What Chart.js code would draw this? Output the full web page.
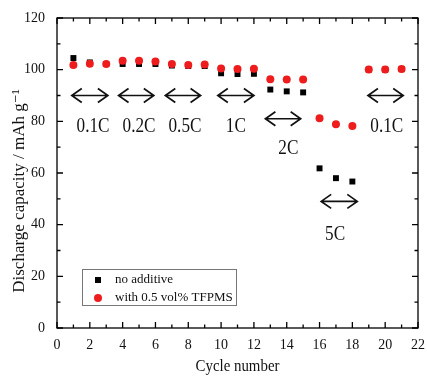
<!DOCTYPE html>
<html><head><meta charset="utf-8">
<script src="https://cdn.jsdelivr.net/npm/chart.js@4"></script>
<style>html,body{margin:0;padding:0;background:#fff}</style>
</head><body>
<canvas id="c" width="427" height="376"></canvas>
<script>
const cycles = [1,2,3,4,5,6,7,8,9,10,11,12,13,14,15,16,17,18,19,20,21];
const noAdditive = [104.5,102.8,102.2,102.2,102.2,102.2,101.6,101.4,101.4,98.6,98.3,98.4,92.3,91.6,91.2,61.8,58.0,56.7,100.0,100.0,100.2];
const withTFPMS = [101.8,102.3,102.2,103.5,103.5,103.2,102.2,101.8,102.0,100.5,100.3,100.4,96.3,96.2,96.2,81.2,78.9,78.2,100.1,100.1,100.3];
const seriesNames = ['no additive','with 0.5 vol% TFPMS'];
const rateLabels = ['0.1C','0.2C','0.5C','1C','2C','5C','0.1C'];

// annotation placement (data coordinates)
const arrowSpans = [[0.9,3.1],[3.75,5.9],[6.6,8.75],[9.8,12.0],[12.7,14.85],[16.1,18.3],[18.95,21.1]];
const arrowY = [90,90,90,90,81,49,90];
const labelX = [2.2,5.0,7.8,10.9,14.1,16.95,20.1];
const labelY = [78,78,78,78,69.5,36,78];

const SERIF = '"Liberation Serif","DejaVu Serif",serif';

function squeezedText(ctx, t, x, y, sx){
  ctx.save(); ctx.translate(x, y); ctx.scale(sx, 1); ctx.fillText(t, 0, 0); ctx.restore();
}

const deco = {
  id:'deco',
  afterDraw(chart){
    const ctx = chart.ctx, xs = chart.scales.x, ys = chart.scales.y, a = chart.chartArea;
    ctx.save();
    ctx.strokeStyle = '#000'; ctx.lineWidth = 1.3;
    ctx.strokeRect(a.left, a.top, a.right-a.left, a.bottom-a.top);
    // ticks inward, all sides
    for (let v=0; v<=22; v++){
      const x = xs.getPixelForValue(v), L = v%2===0 ? 6 : 3.5;
      ctx.beginPath(); ctx.moveTo(x,a.bottom); ctx.lineTo(x,a.bottom-L);
      ctx.moveTo(x,a.top); ctx.lineTo(x,a.top+L); ctx.stroke();
    }
    for (let v=0; v<=120; v+=10){
      const y = ys.getPixelForValue(v), L = v%20===0 ? 6 : 3.5;
      ctx.beginPath(); ctx.moveTo(a.left,y); ctx.lineTo(a.left+L,y);
      ctx.moveTo(a.right,y); ctx.lineTo(a.right-L,y); ctx.stroke();
    }
    // arrows
    ctx.lineWidth = 1.7; ctx.strokeStyle = '#111';
    arrowSpans.forEach((s,i)=>{
      const x1 = xs.getPixelForValue(s[0]), x2 = xs.getPixelForValue(s[1]), y = ys.getPixelForValue(arrowY[i]);
      ctx.beginPath(); ctx.moveTo(x1,y); ctx.lineTo(x2,y);
      ctx.moveTo(x1+10,y-7); ctx.lineTo(x1,y); ctx.lineTo(x1+10,y+7);
      ctx.moveTo(x2-10,y-7); ctx.lineTo(x2,y); ctx.lineTo(x2-10,y+7);
      ctx.stroke();
    });
    ctx.fillStyle = '#111';
    ctx.font = '20px '+SERIF; ctx.textAlign='center'; ctx.textBaseline='middle';
    rateLabels.forEach((t,i)=>{
      squeezedText(ctx, t, xs.getPixelForValue(labelX[i]), ys.getPixelForValue(labelY[i]), 0.86);
    });
    // legend
    ctx.lineWidth = 1; ctx.strokeStyle = '#777';
    ctx.strokeRect(82.5, 269.5, 154, 36);
    ctx.fillStyle = '#000'; ctx.fillRect(95, 277, 6, 6);
    ctx.fillStyle = '#ee1c1c'; ctx.beginPath(); ctx.arc(98, 298, 4, 0, Math.PI*2); ctx.fill();
    ctx.fillStyle = '#111'; ctx.font = '13px '+SERIF; ctx.textAlign='left';
    ctx.fillText(seriesNames[0], 115, 280);
    ctx.fillText(seriesNames[1], 115, 298);
    // axis titles
    ctx.font = '16px '+SERIF; ctx.textAlign='center';
    squeezedText(ctx, 'Cycle number', (a.left+a.right)/2, 367, 0.93);
    ctx.translate(20, 191); ctx.rotate(-Math.PI/2);
    ctx.font = '17px '+SERIF;
    ctx.fillText('Discharge capacity / mAh g\u207B\u00B9', 0, 0);
    ctx.restore();
  }
};

new Chart(document.getElementById('c'), {
  type:'scatter',
  data:{
    datasets:[
      {label:seriesNames[1], data:cycles.map((c,i)=>({x:c,y:withTFPMS[i]})), pointStyle:'circle', pointRadius:4, backgroundColor:'#ee1c1c', borderColor:'#ee1c1c', borderWidth:0, order:0},
      {label:seriesNames[0], data:cycles.map((c,i)=>({x:c,y:noAdditive[i]})), pointStyle:'rect', pointRadius:4.2, backgroundColor:'#000', borderColor:'#000', borderWidth:0, order:1}
    ]
  },
  options:{
    responsive:false, animation:false, devicePixelRatio:1,
    layout:{padding:{left:0,right:9,top:18,bottom:0}},
    plugins:{legend:{display:false}, tooltip:{enabled:false}},
    scales:{
      x:{type:'linear', min:0, max:22,
        ticks:{stepSize:2, color:'#111', font:{family:SERIF,size:14}, padding:1},
        grid:{display:false}, border:{display:false},
        afterFit(s){ s.height = 48; }},
      y:{type:'linear', min:0, max:120,
        ticks:{stepSize:20, color:'#111', font:{family:SERIF,size:14}, padding:4},
        grid:{display:false}, border:{display:false},
        afterFit(s){ s.width = 57; }}
    }
  },
  plugins:[deco]
});
</script>
</body></html>
